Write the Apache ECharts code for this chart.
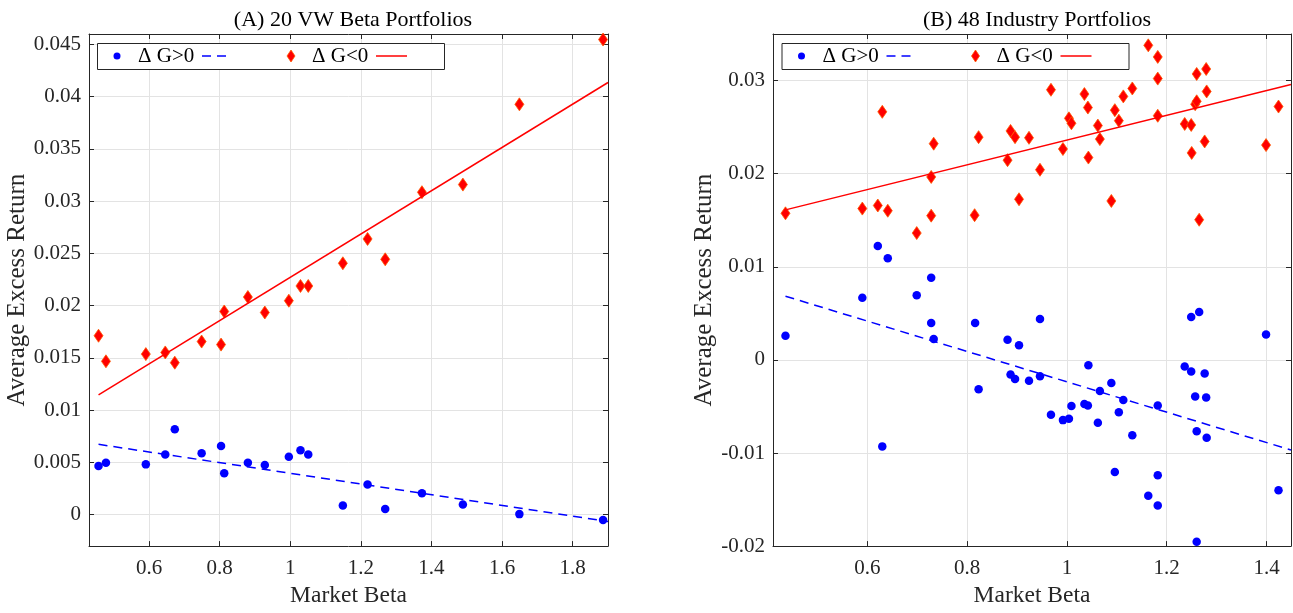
<!DOCTYPE html>
<html>
<head>
<meta charset="utf-8">
<script src="https://cdn.jsdelivr.net/npm/echarts@6/dist/echarts.min.js"></script>
<style>html,body{margin:0;padding:0;background:#fff;}#c{width:1293px;height:613px;}</style>
</head>
<body>
<div id="c"></div>
<script>
// ---------- Panel A: 20 VW Beta Portfolios ----------
const aTitle = '(A) 20 VW Beta Portfolios';
const aBeta = [0.457,0.478,0.591,0.646,0.673,0.749,0.804,0.813,0.880,0.928,0.996,1.029,1.051,1.149,1.219,1.269,1.373,1.489,1.649,1.886];
const aPos  = [0.00466,0.00498,0.00482,0.00576,0.00819,0.00589,0.00658,0.00397,0.00498,0.00476,0.00554,0.00617,0.00576,0.00088,0.00290,0.00054,0.00205,0.00098,0.00006,-0.00050];
const aNeg  = [0.01713,0.01468,0.01537,0.01553,0.01455,0.01657,0.01628,0.01945,0.02083,0.01935,0.02048,0.02189,0.02189,0.02406,0.02639,0.02444,0.03086,0.03159,0.03927,0.04547];
const aFitX = [0.457, 1.9];
const aPosFit = [0.00674, -0.00064];
const aNegFit = [0.01146, 0.04136];
const aXTicks = [0.6,0.8,1.0,1.2,1.4,1.6,1.8];
const aYTicks = [0,0.005,0.01,0.015,0.02,0.025,0.03,0.035,0.04,0.045];

// ---------- Panel B: 48 Industry Portfolios ----------
const bTitle = '(B) 48 Industry Portfolios';
const bBeta = [0.436,0.590,0.621,0.630,0.641,0.699,0.728,0.728,0.733,0.816,0.823,0.881,0.887,0.896,0.904,0.924,0.946,0.946,0.968,0.992,1.004,1.009,1.035,1.042,1.043,1.062,1.066,1.089,1.096,1.104,1.113,1.131,1.163,1.182,1.182,1.182,1.236,1.249,1.249,1.257,1.260,1.260,1.265,1.276,1.279,1.280,1.399,1.424];
const bPos  = [0.00259,0.00667,0.01223,-0.00929,0.01092,0.00695,0.00883,0.00397,0.00223,0.00397,-0.00316,0.00216,-0.00156,-0.00206,0.00156,-0.00223,0.00440,-0.00177,-0.00590,-0.00647,-0.00633,-0.00495,-0.00473,-0.00491,-0.00057,-0.00675,-0.00333,-0.00248,-0.01205,-0.00562,-0.00431,-0.00809,-0.01459,-0.01240,-0.01565,-0.00491,-0.00071,0.00461,-0.00124,-0.00392,-0.00767,-0.01954,0.00514,-0.00145,-0.00403,-0.00837,0.00273,-0.01399];
const bNegBeta = [0.436,0.590,0.621,0.630,0.641,0.699,0.728,0.728,0.733,0.815,0.823,0.881,0.887,0.896,0.904,0.924,0.946,0.968,0.992,1.004,1.009,1.035,1.042,1.043,1.062,1.066,1.089,1.096,1.104,1.113,1.131,1.163,1.182,1.182,1.182,1.236,1.249,1.250,1.257,1.260,1.260,1.265,1.276,1.279,1.280,1.399,1.424];
const bNeg  = [0.01574,0.01625,0.01658,0.02664,0.01602,0.01362,0.01965,0.01549,0.02322,0.01554,0.02392,0.02145,0.02459,0.02392,0.01725,0.02385,0.02042,0.02901,0.02265,0.02594,0.02541,0.02855,0.02710,0.02173,0.02516,0.02371,0.01707,0.02682,0.02569,0.02830,0.02915,0.03378,0.03254,0.03021,0.02622,0.02534,0.02523,0.02223,0.02746,0.02777,0.03071,0.01505,0.02346,0.03124,0.02883,0.02307,0.02721];
const bFitX = [0.436, 1.449];
const bPosFit = [0.00684, -0.00968];
const bNegFit = [0.01611, 0.02958];
const bXTicks = [0.6,0.8,1.0,1.2,1.4];
const bYTicks = [-0.02,-0.01,0,0.01,0.02,0.03];

const legendPos = 'Δ G>0';
const legendNeg = 'Δ G<0';
const xName = 'Market Beta';
const yName = 'Average Excess Return';

const FONT = "'Liberation Serif','DejaVu Serif',serif";
const AX = '#262626';
const GRIDC = '#e3e3e3';
const BLUE = '#0000ff';
const RED = '#ff0000';

function pair(xs, ys){ return xs.map((x,i)=>[x, ys[i]]); }
function fmt(v){ return String(Math.round(v*1000)/1000); }

function xAxes(gi, min, max, ticks){
  return [
    {gridIndex: gi, type:'value', position:'bottom', min, max,
     name: xName, nameLocation:'middle', nameGap: 37,
     nameTextStyle:{fontFamily:FONT, fontSize:23.5, color:AX},
     axisLine:{show:true, onZero:false, lineStyle:{color:AX, width:1}},
     axisTick:{show:true, inside:true, length:5, customValues: ticks, lineStyle:{color:AX}},
     axisLabel:{customValues: ticks, formatter: fmt, fontFamily:FONT, fontSize:21, color:AX, margin:12},
     splitLine:{show:true, lineStyle:{color:GRIDC, width:1}}},
    {gridIndex: gi, type:'value', position:'top', min, max,
     axisLine:{show:true, onZero:false, lineStyle:{color:AX, width:1}},
     axisTick:{show:true, inside:true, length:5, customValues: ticks, lineStyle:{color:AX}},
     axisLabel:{show:false}, splitLine:{show:false}}
  ];
}
function yAxes(gi, min, max, ticks, gap){
  return [
    {gridIndex: gi, type:'value', position:'left', min, max,
     name: yName, nameLocation:'middle', nameGap: gap,
     nameTextStyle:{fontFamily:FONT, fontSize:25, color:AX},
     axisLine:{show:true, onZero:false, lineStyle:{color:AX, width:1}},
     axisTick:{show:true, inside:true, length:5, customValues: ticks, lineStyle:{color:AX}},
     axisLabel:{customValues: ticks, formatter: fmt, fontFamily:FONT, fontSize:21, color:AX, margin:8},
     splitLine:{show:true, lineStyle:{color:GRIDC, width:1}}},
    {gridIndex: gi, type:'value', position:'right', min, max,
     axisLine:{show:true, onZero:false, lineStyle:{color:AX, width:1}},
     axisTick:{show:true, inside:true, length:5, customValues: ticks, lineStyle:{color:AX}},
     axisLabel:{show:false}, splitLine:{show:false}}
  ];
}

function legendGraphic(dx){
  const ts = {fontFamily:FONT, fontSize:21, fill:'#000'};
  return [
    {type:'rect', left:97+dx, top:43, shape:{width:347, height:26}, style:{fill:'#fff', stroke:AX, lineWidth:1}, z:100},
    {type:'circle', shape:{cx:117+dx, cy:56, r:3.5}, style:{fill:BLUE}, z:101},
    {type:'text', x:138+dx, y:56, style:Object.assign({text:legendPos, textVerticalAlign:'middle'}, ts), z:101},
    {type:'line', shape:{x1:202+dx, y1:56, x2:230+dx, y2:56}, style:{stroke:BLUE, lineWidth:1.5, lineDash:[9,6]}, z:101},
    {type:'polygon', shape:{points:[[291+dx,50],[295+dx,56],[291+dx,62],[287+dx,56]]}, style:{fill:RED, stroke:'#ff5a00', lineWidth:0.8}, z:101},
    {type:'text', x:312+dx, y:56, style:Object.assign({text:legendNeg, textVerticalAlign:'middle'}, ts), z:101},
    {type:'line', shape:{x1:376+dx, y1:56, x2:407+dx, y2:56}, style:{stroke:RED, lineWidth:1.5}, z:101}
  ];
}

function scatterSeries(xi, yi, data, isPos){
  return {type:'scatter', xAxisIndex:xi, yAxisIndex:yi, data,
    symbol: isPos ? 'circle' : 'diamond',
    symbolSize: isPos ? 8.5 : [9,13],
    itemStyle: isPos ? {color:BLUE, opacity:1} : {color:RED, borderColor:'#ff5a00', borderWidth:0.8, opacity:1},
    z: 3, silent:true, animation:false};
}
function lineSeries(xi, yi, data, isPos){
  return {type:'line', xAxisIndex:xi, yAxisIndex:yi, data, showSymbol:false, symbol:'none',
    lineStyle:{color: isPos?BLUE:RED, width:1.5, type: isPos?[9,6]:'solid'},
    z: 4, silent:true, animation:false};
}

const chart = echarts.init(document.getElementById('c'), null, {renderer:'canvas'});
chart.setOption({
  backgroundColor:'#fff',
  animation:false,
  title:[
    {text:aTitle, left:348, top:4, textAlign:'center', textStyle:{fontFamily:FONT, fontSize:22, fontWeight:'normal', color:'#000'}},
    {text:bTitle, left:1032, top:4, textAlign:'center', textStyle:{fontFamily:FONT, fontSize:22, fontWeight:'normal', color:'#000'}}
  ],
  grid:[
    {left:89, top:34, width:519, height:519, containLabel:false},
    {left:773, top:34, width:518, height:519, containLabel:false}
  ],
  xAxis: [].concat(xAxes(0, 0.43, 1.9, aXTicks), xAxes(1, 0.411, 1.449, bXTicks)),
  yAxis: [].concat(yAxes(0, -0.003, 0.046, aYTicks, 58), yAxes(1, -0.02, 0.035, bYTicks, 55)),
  series:[
    scatterSeries(0, 0, pair(aBeta, aPos), true),
    scatterSeries(0, 0, pair(aBeta, aNeg), false),
    lineSeries(0, 0, pair(aFitX, aPosFit), true),
    lineSeries(0, 0, pair(aFitX, aNegFit), false),
    scatterSeries(2, 2, pair(bBeta, bPos), true),
    scatterSeries(2, 2, pair(bNegBeta, bNeg), false),
    lineSeries(2, 2, pair(bFitX, bPosFit), true),
    lineSeries(2, 2, pair(bFitX, bNegFit), false)
  ],
  graphic: [].concat(legendGraphic(0), legendGraphic(684.5))
});
</script>
</body>
</html>
